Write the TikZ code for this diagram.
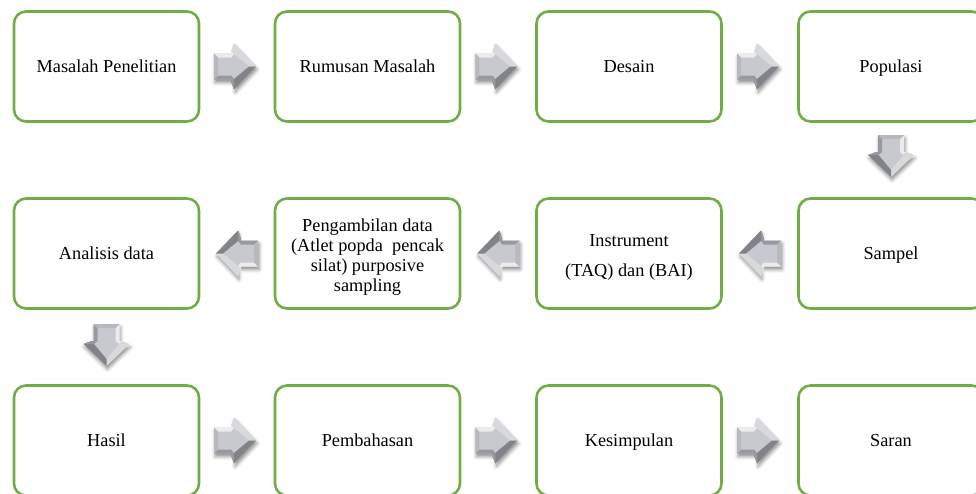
\documentclass[tikz,border=0pt]{standalone}
\usepackage{fontspec}
\setmainfont{Liberation Serif}
\usetikzlibrary{calc,shadows.blur}
\definecolor{boxgreen}{RGB}{112,173,71}
\definecolor{afront}{RGB}{200,201,206}
\definecolor{alight}{RGB}{236,236,239}
\definecolor{amid}{RGB}{216,217,221}
\definecolor{aleft}{RGB}{184,185,190}
\definecolor{adark}{RGB}{130,131,137}
\definecolor{abot}{RGB}{152,153,159}
\newcommand{\topgap}{\rule{0pt}{19.5pt}}
\tikzset{
  box/.style={draw=boxgreen, line width=2.6pt, rounded corners=12pt,
    minimum width=185pt, minimum height=110pt, align=center, fill=white,
    inner sep=4pt, font=\fontsize{18.3}{20}\selectfont},
  oneline/.style={text height=12.8pt, text depth=0pt},
  barrow/.pic={
    \fill[afront, blur shadow={shadow xshift=1pt, shadow yshift=-3pt, shadow blur radius=3.5pt, shadow opacity=45}]
      (-21,-13) -- (-1,-13) -- (-1,-23) -- (21,0) -- (-1,23) -- (-1,13) -- (-21,13) -- cycle;
    \fill[alight] (-21,-13) -- (-1,-13) -- (-4,-9) -- (-17,-9) -- cycle;
    \fill[alight] (-1,-13) -- (-1,-23) -- (-4,-15) -- (-4,-9) -- cycle;
    \fill[amid] (-1,-23) -- (21,0) -- (14,0) -- (-4,-15) -- cycle;
    \fill[adark] (21,0) -- (-1,23) -- (-4,15) -- (14,0) -- cycle;
    \fill[abot] (-1,23) -- (-1,13) -- (-4,9) -- (-4,15) -- cycle;
    \fill[abot] (-1,13) -- (-21,13) -- (-17,9) -- (-4,9) -- cycle;
    \fill[aleft] (-21,13) -- (-21,-13) -- (-17,-9) -- (-17,9) -- cycle;
  }
}
\begin{document}
\begin{tikzpicture}[x=1pt,y=-1pt]
\useasboundingbox (0,0) rectangle (976,493);
\clip (0,0) rectangle (976,493);
% row 1
\node[box,oneline] (m1) at (106.5,66.5) {Masalah Penelitian};
\node[box,oneline] (m2) at (367.5,66.5) {Rumusan Masalah};
\node[box,oneline] (m3) at (629,66.5) {Desain};
\node[box,oneline] (m4) at (891,66.5) {Populasi};
% row 2
\node[box,oneline] (s4) at (891,253.5) {Sampel};
\node[box] (s3) at (629,253.5) {\topgap Instrument\\[10pt](TAQ) dan (BAI)};
\node[box] (s2) at (367.5,253.5) {\topgap Pengambilan data\\(Atlet popda~ pencak\\silat) purposive\\sampling};
\node[box,oneline] (s1) at (106.5,253.5) {Analisis data};
% row 3
\node[box,oneline] (h1) at (106.5,440.5) {Hasil};
\node[box,oneline] (h2) at (367.5,440.5) {Pembahasan};
\node[box,oneline] (h3) at (629,440.5) {Kesimpulan};
\node[box,oneline] (h4) at (891,440.5) {Saran};
% arrows
\path ($(m1.east)!0.5!(m2.west)+(-2,0)$) pic {barrow};
\path ($(m2.east)!0.5!(m3.west)+(-2,0)$) pic {barrow};
\path ($(m3.east)!0.5!(m4.west)+(-2,0)$) pic {barrow};
\path ($(m4.south)!0.5!(s4.north)+(0,-4)$) pic[rotate=-90] {barrow};
\path ($(s4.west)!0.5!(s3.east)$) pic[rotate=180] {barrow};
\path ($(s3.west)!0.5!(s2.east)$) pic[rotate=180] {barrow};
\path ($(s2.west)!0.5!(s1.east)$) pic[rotate=180] {barrow};
\path ($(s1.south)!0.5!(h1.north)+(0,-2)$) pic[rotate=-90] {barrow};
\path ($(h1.east)!0.5!(h2.west)+(-2,0)$) pic {barrow};
\path ($(h2.east)!0.5!(h3.west)+(-2,0)$) pic {barrow};
\path ($(h3.east)!0.5!(h4.west)+(-2,0)$) pic {barrow};
\end{tikzpicture}
\end{document}
